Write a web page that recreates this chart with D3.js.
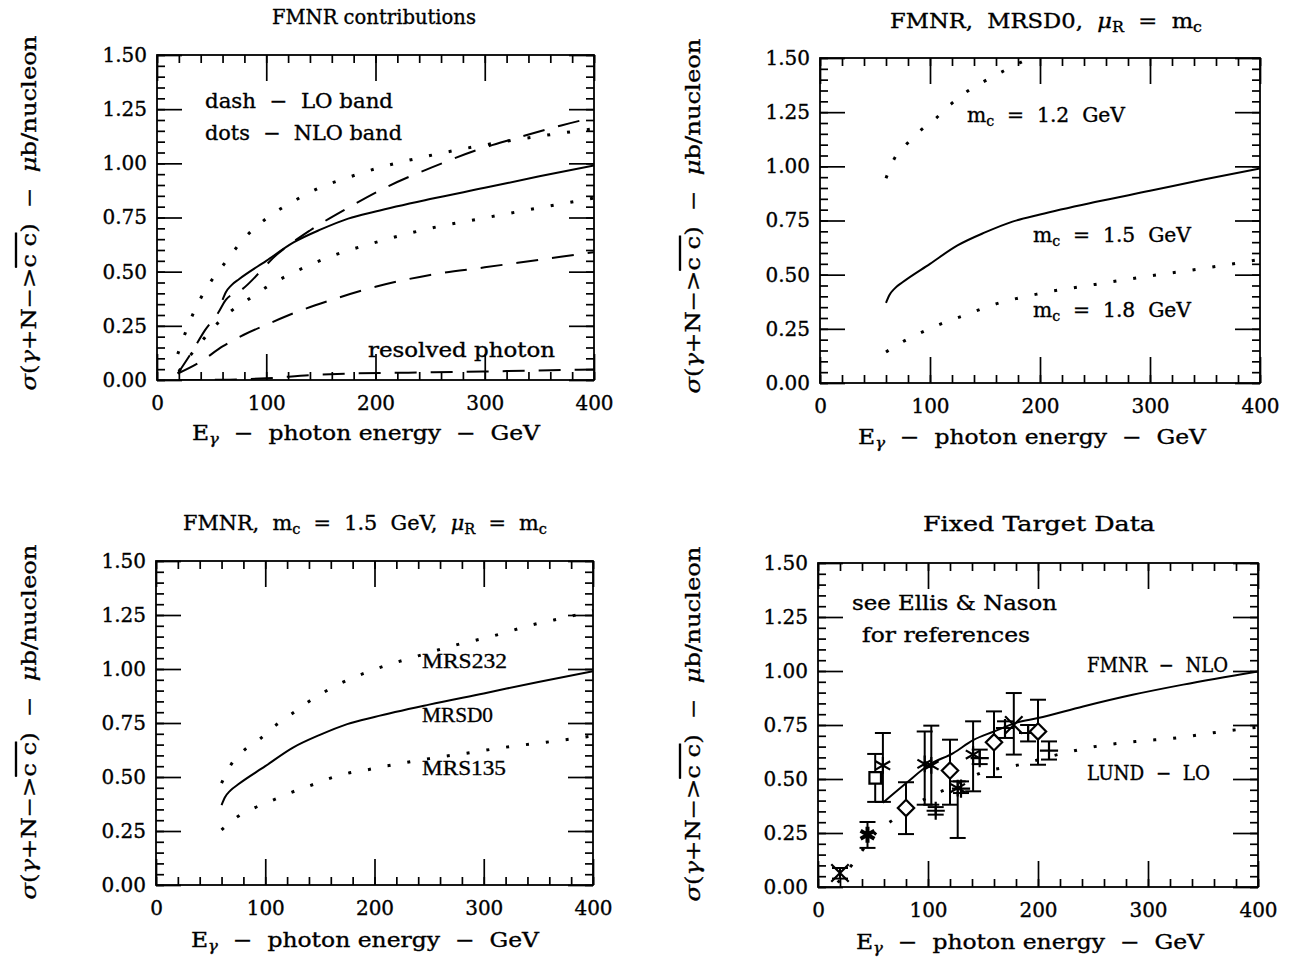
<!DOCTYPE html>
<html>
<head>
<meta charset="utf-8">
<script src="https://cdn.jsdelivr.net/npm/d3@7"></script>
<style>
  body { margin: 0; background: #fff; }
  text { font-family: "DejaVu Serif", serif; fill: #000; stroke: #000; stroke-width: 0.35px; }
</style>
</head>
<body>
<div id="chart"></div>
<script>
// ---- data (photon energy in GeV, cross section in microbarn/nucleon) ----
const xTicks = [0, 100, 200, 300, 400];
const yTicks = [0, 0.25, 0.5, 0.75, 1.0, 1.25, 1.5];

// central NLO prediction (MRSD0, mc = 1.5 GeV)
const centralE = [60, 63, 68, 75, 100, 125, 150, 175, 200, 250, 300, 350, 400];
const centralV = [0.37, 0.405, 0.437, 0.465, 0.55, 0.635, 0.695, 0.745, 0.778, 0.835, 0.887, 0.94, 0.99];

// panel 1: LO band (dashed), NLO band (dotted), resolved photon
const loHighE = [19, 32, 44, 56, 63, 77, 110, 140, 175, 212, 251, 292, 328, 370, 398];
const loHighV = [0.03, 0.13, 0.23, 0.31, 0.37, 0.415, 0.58, 0.69, 0.795, 0.895, 0.98, 1.06, 1.115, 1.175, 1.21];
const loLowE = [19, 40, 60, 80, 100, 130, 160, 200, 250, 300, 350, 400];
const loLowV = [0.03, 0.085, 0.155, 0.21, 0.255, 0.318, 0.37, 0.43, 0.485, 0.52, 0.555, 0.59];
const nloHighE = [19, 30, 40, 50, 60, 80, 100, 125, 150, 175, 200, 250, 300, 350, 400];
const nloHighV = [0.12, 0.27, 0.377, 0.46, 0.526, 0.655, 0.745, 0.825, 0.89, 0.935, 0.975, 1.036, 1.085, 1.125, 1.16];
const nloLowE = [20, 30, 42, 54, 67, 83, 100, 130, 160, 200, 250, 300, 350, 400];
const nloLowV = [0.04, 0.11, 0.185, 0.254, 0.315, 0.37, 0.428, 0.508, 0.572, 0.635, 0.70, 0.748, 0.795, 0.84];
const resolvedE = [20, 60, 100, 140, 180, 230, 280, 320, 360, 400];
const resolvedV = [0, 0.001, 0.008, 0.022, 0.03, 0.034, 0.038, 0.041, 0.045, 0.048];

// panel 2: charm mass variation
const mc12E = [60, 67, 79, 91, 105, 119, 133, 148, 165, 180, 200];
const mc12V = [0.945, 1.03, 1.104, 1.164, 1.22, 1.287, 1.343, 1.389, 1.435, 1.474, 1.52];
const mc18E = [60, 75, 90, 110, 130, 160, 200, 250, 300, 350, 400];
const mc18V = [0.143, 0.19, 0.228, 0.273, 0.31, 0.365, 0.413, 0.455, 0.494, 0.53, 0.57];

// panel 3: structure function variation
const mrs232E = [60, 68, 80, 95, 110, 125, 140, 170, 204, 238, 273, 310, 345, 382, 400];
const mrs232V = [0.472, 0.552, 0.621, 0.676, 0.741, 0.795, 0.85, 0.936, 1.005, 1.058, 1.109, 1.155, 1.205, 1.247, 1.27];
const mrs135E = [60, 74, 90, 107, 124, 141, 158, 176, 194, 212, 229, 250, 284, 320, 357, 400];
const mrs135V = [0.255, 0.314, 0.357, 0.393, 0.429, 0.46, 0.492, 0.518, 0.534, 0.552, 0.567, 0.585, 0.61, 0.638, 0.661, 0.69];

// panel 4: FMNR NLO, LUND LO and fixed target measurements
const fmnrE = [59, 80, 101, 123, 141, 160, 180, 200, 241, 286, 332, 400];
const fmnrV = [0.39, 0.48, 0.566, 0.62, 0.68, 0.72, 0.76, 0.782, 0.836, 0.89, 0.937, 0.998];
const lundE = [18, 32, 54, 68, 85, 100, 120, 148, 183, 218, 253, 289, 326, 362, 400];
const lundV = [0.02, 0.11, 0.258, 0.31, 0.37, 0.415, 0.46, 0.528, 0.566, 0.613, 0.651, 0.674, 0.69, 0.716, 0.74];

const dataE    = [20, 45, 52, 59, 80, 97, 103, 107, 120, 127, 130, 141, 147, 160, 170, 178, 191, 200, 210];
const dataV    = [0.065, 0.242, 0.505, 0.563, 0.366, 0.57, 0.563, 0.353, 0.539, 0.458, 0.455, 0.613, 0.597, 0.67, 0.736, 0.75, 0.713, 0.72, 0.631];
const dataLo   = [0.039, 0.181, 0.394, 0.394, 0.245, 0.381, 0.381, 0.335, 0.381, 0.227, 0.435, 0.443, 0.569, 0.509, 0.69, 0.613, 0.674, 0.566, 0.59];
const dataHi   = [0.088, 0.301, 0.616, 0.713, 0.485, 0.72, 0.747, 0.37, 0.682, 0.489, 0.489, 0.767, 0.636, 0.813, 0.767, 0.898, 0.75, 0.867, 0.674];
const dataSym  = ["times", "star", "square", "asterisk", "diamond", "asterisk", "asterisk", "plus", "diamond", "asterisk",
                  "plus", "asterisk", "plus", "diamond", "plus", "times", "plus", "diamond", "plus"];

const zip = (e, v) => e.map((d, i) => [d, v[i]]);

// ---- layout ----
const width = 1292, height = 963;
const svg = d3.select("#chart").append("svg")
  .attr("width", width).attr("height", height);

const boxes = [
  { x0: 157, x1: 594, y0: 55, y1: 380 },
  { x0: 820, x1: 1260, y0: 58, y1: 383 },
  { x0: 156, x1: 593, y0: 561, y1: 885 },
  { x0: 818, x1: 1258, y0: 563, y1: 887 }
];

const line = (x, y) => d3.line()
  .x(d => x(d[0])).y(d => y(d[1]))
  .curve(d3.curveMonotoneX);

function panel(b, i) {
  const x = d3.scaleLinear().domain([0, 400]).range([b.x0, b.x1]);
  const y = d3.scaleLinear().domain([0, 1.5]).range([b.y1, b.y0]);
  const g = svg.append("g");

  g.append("clipPath").attr("id", "clip" + i)
    .append("rect").attr("x", b.x0).attr("y", b.y0)
    .attr("width", b.x1 - b.x0).attr("height", b.y1 - b.y0);

  const minorX = d3.range(0, 401, 20), minorY = d3.range(0, 1.501, 0.05);

  const ax = (axis, tx, ty) => {
    const a = g.append("g").attr("transform", `translate(${tx},${ty})`).call(axis);
    a.select(".domain").remove();
    a.selectAll("line").attr("stroke", "#000").attr("stroke-width", 1.7);
    a.selectAll("text").attr("font-size", 20).style("font-family", "DejaVu Serif").attr("fill", "#000");
    return a;
  };

  // bottom
  ax(d3.axisBottom(x).tickValues(minorX).tickSize(-8).tickFormat(""), 0, b.y1);
  ax(d3.axisBottom(x).tickValues(xTicks).tickSize(-26).tickPadding(16).tickFormat(d3.format("d")), 0, b.y1);
  // top
  ax(d3.axisTop(x).tickValues(minorX).tickSize(-8).tickFormat(""), 0, b.y0);
  ax(d3.axisTop(x).tickValues(xTicks).tickSize(-26).tickFormat(""), 0, b.y0);
  // left
  ax(d3.axisLeft(y).tickValues(minorY).tickSize(-8).tickFormat(""), b.x0, 0);
  ax(d3.axisLeft(y).tickValues(yTicks).tickSize(-25).tickPadding(10).tickFormat(d3.format(".2f")), b.x0, 0);
  // right
  ax(d3.axisRight(y).tickValues(minorY).tickSize(-8).tickFormat(""), b.x1, 0);
  ax(d3.axisRight(y).tickValues(yTicks).tickSize(-25).tickFormat(""), b.x1, 0);

  g.append("rect")
    .attr("x", b.x0).attr("y", b.y0)
    .attr("width", b.x1 - b.x0).attr("height", b.y1 - b.y0)
    .attr("fill", "none").attr("stroke", "#000").attr("stroke-width", 1.8);

  const plot = g.append("g").attr("clip-path", `url(#clip${i})`);
  return { g, plot, x, y, b };
}

const P = boxes.map(panel);

function curve(p, pts, style) {
  const path = p.plot.append("path")
    .datum(pts)
    .attr("d", line(p.x, p.y))
    .attr("fill", "none")
    .attr("stroke", "#000");
  if (style === "solid") path.attr("stroke-width", 2);
  if (style === "dash") path.attr("stroke-width", 2).attr("stroke-dasharray", "22,14");
  if (style === "dot") path.attr("stroke-width", 3).attr("stroke-dasharray", "3,17");
  return path;
}

// ---- text helpers ----
function label(g, x, y, parts, opts = {}) {
  const size = opts.size || 20;
  const t = g.append("text").attr("x", x).attr("y", y)
    .attr("font-size", size)
    .attr("text-anchor", opts.anchor || "start")
    .style("white-space", "pre");
  if (opts.len) t.attr("textLength", opts.len).attr("lengthAdjust", "spacingAndGlyphs");
  if (opts.family) t.style("font-family", opts.family);
  if (opts.transform) t.attr("transform", opts.transform);
  parts.forEach(p => {
    if (typeof p === "string") { t.append("tspan").text(p); return; }
    const s = t.append("tspan").text(p.t);
    if (p.sub) s.attr("font-size", size * 0.7).attr("baseline-shift", "-28%");
    if (p.over) s.style("text-decoration", "overline");
    if (p.it) s.attr("font-style", "italic");
  });
  return t;
}

const xLabel = ["E", { t: "γ", sub: true, it: true }, "  −  photon energy  −  GeV"];
const yLabel = [{ t: "σ", it: true }, "(", { t: "γ", it: true }, "+N−>", { t: "c c", over: true }, ")  −  ",
                { t: "μ", it: true }, "b/nucleon"];

// titles, axis titles
const titles = [
  ["FMNR contributions"],
  ["FMNR,  MRSD0,  ", { t: "μ", it: true }, { t: "R", sub: true }, "  =  m", { t: "c", sub: true }],
  ["FMNR,  m", { t: "c", sub: true }, "  =  1.5  GeV,  ", { t: "μ", it: true }, { t: "R", sub: true }, "  =  m", { t: "c", sub: true }],
  ["Fixed Target Data"]
];
const titleC = [374, 1046, 365, 1039];
const titleW = [204, 312, 364, 232];
const titleY = [24, 28, 530, 531];
const xLabC = [366, 1032, 365, 1030];
const xLabY = [440, 444, 947, 949];
const yLabX = [36, 700, 36, 700];
const yLabC = [213, 216, 722, 724];

P.forEach((p, i) => {
  label(svg, titleC[i], titleY[i], titles[i], { anchor: "middle", len: titleW[i] });
  label(svg, xLabC[i], xLabY[i], xLabel, { anchor: "middle", len: 348 });
  label(svg, 0, 0, yLabel, { anchor: "middle", len: 355,
    transform: `translate(${yLabX[i]},${yLabC[i]}) rotate(-90)` });
});

// ---- panel 1 ----
curve(P[0], zip(centralE, centralV), "solid");
curve(P[0], zip(loHighE, loHighV), "dash");
curve(P[0], zip(loLowE, loLowV), "dash");
curve(P[0], zip(nloHighE, nloHighV), "dot");
curve(P[0], zip(nloLowE, nloLowV), "dot");
curve(P[0], zip(resolvedE, resolvedV), "dash");
label(svg, 205, 108, ["dash  −  LO band"], { len: 188 });
label(svg, 205, 140, ["dots  −  NLO band"], { len: 197 });
label(svg, 368, 357, ["resolved photon"], { len: 187 });

// ---- panel 2 ----
curve(P[1], zip(centralE, centralV), "solid");
curve(P[1], zip(mc12E, mc12V), "dot");
curve(P[1], zip(mc18E, mc18V), "dot");
label(svg, 967, 122, ["m", { t: "c", sub: true }, "  =  1.2  GeV"], { len: 158 });
label(svg, 1033, 242, ["m", { t: "c", sub: true }, "  =  1.5  GeV"], { len: 158 });
label(svg, 1033, 317, ["m", { t: "c", sub: true }, "  =  1.8  GeV"], { len: 158 });

// ---- panel 3 ----
curve(P[2], zip(centralE, centralV), "solid");
curve(P[2], zip(mrs232E, mrs232V), "dot");
curve(P[2], zip(mrs135E, mrs135V), "dot");
const mrsFont = "Liberation Serif";
label(svg, 422, 668, ["MRS232"], { size: 22, family: mrsFont, len: 85 });
label(svg, 422, 722, ["MRSD0"], { size: 22, family: mrsFont, len: 71 });
label(svg, 422, 775, ["MRS135"], { size: 22, family: mrsFont, len: 84 });

// ---- panel 4 ----
curve(P[3], zip(fmnrE, fmnrV), "solid");
curve(P[3], zip(lundE, lundV), "dot");
label(svg, 852, 610, ["see Ellis & Nason"], { len: 205 });
label(svg, 862, 642, ["for references"], { len: 168 });
label(svg, 1087, 672, ["FMNR  −  NLO"], { len: 141 });
label(svg, 1087, 780, ["LUND  −  LO"], { len: 123 });

const symType = {
  times: d3.symbolTimes, star: d3.symbolAsterisk, square: d3.symbolSquare2,
  asterisk: d3.symbolAsterisk, diamond: d3.symbolDiamond2, plus: d3.symbolPlus
};
const symSize = { times: 200, star: 180, square: 170, asterisk: 200, diamond: 170, plus: 110 };
const pts = dataE.map((e, i) => ({ e, v: dataV[i], lo: dataLo[i], hi: dataHi[i], s: dataSym[i] }));
const px = P[3].x, py = P[3].y;
const capW = 8;
const eb = P[3].g.append("g").attr("stroke", "#000").attr("stroke-width", 2).attr("fill", "none");
eb.selectAll("line.bar").data(pts).join("line").attr("class", "bar")
  .attr("x1", d => px(d.e)).attr("x2", d => px(d.e))
  .attr("y1", d => py(d.lo)).attr("y2", d => py(d.hi));
eb.selectAll("line.capLo").data(pts).join("line").attr("class", "capLo")
  .attr("x1", d => px(d.e) - capW).attr("x2", d => px(d.e) + capW)
  .attr("y1", d => py(d.lo)).attr("y2", d => py(d.lo));
eb.selectAll("line.capHi").data(pts).join("line").attr("class", "capHi")
  .attr("x1", d => px(d.e) - capW).attr("x2", d => px(d.e) + capW)
  .attr("y1", d => py(d.hi)).attr("y2", d => py(d.hi));
eb.selectAll("path.sym").data(pts).join("path").attr("class", "sym")
  .attr("transform", d => `translate(${px(d.e)},${py(d.v)})`)
  .attr("d", d => d3.symbol(symType[d.s], symSize[d.s])())
  .attr("fill", d => d.s === "square" || d.s === "diamond" ? "#fff" : "none")
  .attr("stroke-width", d => d.s === "star" ? 4 : 2.2);
</script>
</body>
</html>
